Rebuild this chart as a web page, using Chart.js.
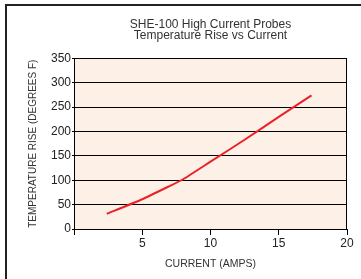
<!DOCTYPE html>
<html>
<head>
<meta charset="utf-8">
<script src="https://cdn.jsdelivr.net/npm/chart.js@4/dist/chart.umd.min.js"></script>
<style>
html,body{margin:0;padding:0;background:#fff;}
#wrap{width:361px;height:279px;position:relative;}
</style>
</head>
<body>
<div id="wrap"><canvas id="c" width="361" height="279"></canvas></div>
<script>
const titleLines = ["SHE-100 High Current Probes", "Temperature Rise vs Current"];
const xTitle = "CURRENT (AMPS)";
const yTitle = "TEMPERATURE RISE (DEGREES F)";
const currentAmps = [2.4, 5, 7, 8, 10, 12.5, 15, 17.4];
const tempRise = [31, 61, 88, 102, 138, 183, 230, 274];
const xTicks = [0, 5, 10, 15, 20];
const yTicks = [0, 50, 100, 150, 200, 250, 300, 350];

const FONT = "'Liberation Sans', Arial, Helvetica, sans-serif";

const framePlugin = {
  id: 'frame',
  beforeDraw(chart) {
    const ctx = chart.ctx, a = chart.chartArea;
    ctx.save();
    ctx.fillStyle = '#fff';
    ctx.fillRect(0, 0, chart.width, chart.height);
    ctx.fillStyle = '#fdf0e6';
    ctx.fillRect(a.left, a.top, a.right - a.left, a.bottom - a.top);
    ctx.strokeStyle = '#222';
    ctx.lineWidth = 2;
    ctx.beginPath();
    ctx.moveTo(6, chart.height);
    ctx.lineTo(6, 5);
    ctx.lineTo(chart.width, 5);
    ctx.stroke();
    ctx.restore();
  },
  afterDatasetsDraw(chart) {
    const ctx = chart.ctx, a = chart.chartArea;
    ctx.save();
    ctx.strokeStyle = '#000';
    ctx.lineWidth = 1;
    ctx.strokeRect(Math.round(a.left) + 0.5, Math.round(a.top) + 0.5,
      Math.round(a.right - a.left) - 1, Math.round(a.bottom - a.top));
    ctx.restore();
  }
};

new Chart(document.getElementById('c'), {
  type: 'scatter',
  data: {
    datasets: [{
      data: currentAmps.map((x, i) => ({x: x, y: tempRise[i]})),
      showLine: true,
      borderColor: '#ea2228',
      borderWidth: 2,
      pointRadius: 0,
      tension: 0.15,
      fill: false
    }]
  },
  options: {
    responsive: false,
    animation: false,
    devicePixelRatio: 1,
    layout: {padding: {left: 27, right: 14, top: 8, bottom: 8}},
    plugins: {
      legend: {display: false},
      tooltip: {enabled: false},
      title: {
        display: true,
        text: titleLines,
        fullSize: false,
        color: '#333',
        font: {family: FONT, size: 12, weight: 'normal', lineHeight: 0.917},
        padding: {top: 11, bottom: 17.3}
      }
    },
    scales: {
      x: {
        type: 'linear',
        min: 0, max: 20,
        afterBuildTicks(s) { s.ticks = xTicks.map(v => ({value: v})); },
        afterFit(s) { s.height = 42; },
        border: {display: true, color: '#000', width: 1},
        grid: {drawOnChartArea: false, drawTicks: true, tickLength: 6, color: '#000'},
        ticks: {
          color: '#222',
          padding: 1,
          font: {family: FONT, size: 12},
          callback: v => v === 0 ? '' : String(v),
          maxRotation: 0
        },
        title: {
          display: true, text: xTitle, color: '#333',
          font: {family: FONT, size: 10.5},
          padding: {top: 0, bottom: 0.7}
        }
      },
      y: {
        type: 'linear',
        min: 0, max: 350,
        afterBuildTicks(s) { s.ticks = yTicks.map(v => ({value: v})); },
        afterFit(s) { s.width = 47; },
        border: {display: true, color: '#000', width: 1},
        grid: {drawOnChartArea: true, drawTicks: true, tickLength: 2, color: '#000', lineWidth: 1},
        ticks: {
          color: '#222',
          padding: 1,
          font: {family: FONT, size: 12}
        },
        title: {
          display: true, text: yTitle, color: '#333',
          font: {family: FONT, size: 10},
          padding: {top: 0, bottom: 0}
        }
      }
    }
  },
  plugins: [framePlugin]
});
</script>
</body>
</html>
